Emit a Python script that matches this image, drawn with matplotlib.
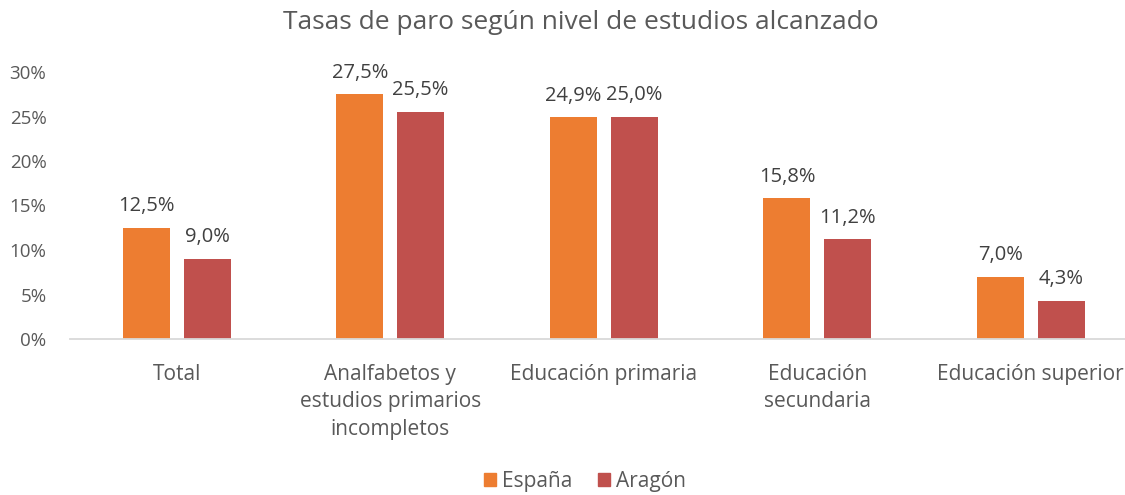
import numpy as np
from matplotlib import pyplot as plt
from matplotlib.patches import Patch

plt.rcParams['font.family'] = ['Open Sans', 'DejaVu Sans']

categorias = ["Total", "Analfabetos y\nestudios primarios\nincompletos", "Educación primaria",
              "Educación\nsecundaria", "Educación superior"]
espana = [12.5, 27.5, 24.9, 15.8, 7.0]
aragon = [9.0, 25.5, 25.0, 11.2, 4.3]
yticks = [0, 5, 10, 15, 20, 25, 30]

color_es = "#ED7D31"
color_ar = "#C0504D"
gris = "#595959"

fig = plt.figure(figsize=(11.25, 4.95), dpi=100)
ax = fig.add_axes([70 / 1125, 156 / 495, 1067.5 / 1125, 267 / 495])

x = np.arange(len(categorias))
ancho = 0.22
desp = 0.142
b1 = ax.bar(x - desp, espana, ancho, color=color_es)
b2 = ax.bar(x + desp, aragon, ancho, color=color_ar)

for barras, valores in ((b1, espana), (b2, aragon)):
    for b, v in zip(barras, valores):
        ax.text(b.get_x() + b.get_width() / 2, v + 1.3, ("%.1f%%" % v).replace(".", ","),
                ha="center", va="bottom", fontsize=14.5, color="#404040")

ax.set_xlim(-0.5, len(categorias) - 0.5)
ax.set_ylim(0, 30)
ax.set_yticks(yticks)
ax.set_yticklabels(["%d%%" % t for t in yticks], fontsize=13.5, color=gris)
ax.set_xticks(x)
ax.set_xticklabels(categorias, fontsize=15, color=gris, linespacing=1.4)
ax.tick_params(axis="both", length=0)
ax.tick_params(axis="y", pad=17)
ax.tick_params(axis="x", pad=18)
for lado in ("top", "right", "left"):
    ax.spines[lado].set_visible(False)
ax.spines["bottom"].set_color("#D9D9D9")
ax.spines["bottom"].set_linewidth(1.3)

fig.text(0.516, 0.955, "Tasas de paro según nivel de estudios alcanzado", ha="center", va="center",
         fontsize=19, color=gris)

handles = [Patch(color=color_es, label="España"), Patch(color=color_ar, label="Aragón")]
fig.legend(handles=handles, loc="center", bbox_to_anchor=(0.52, 0.028), ncol=2, frameon=False,
           fontsize=15, labelcolor=gris, handlelength=0.6, handleheight=0.6, handletextpad=0.3,
           columnspacing=1.2)

fig.savefig("out.png", dpi=100)
